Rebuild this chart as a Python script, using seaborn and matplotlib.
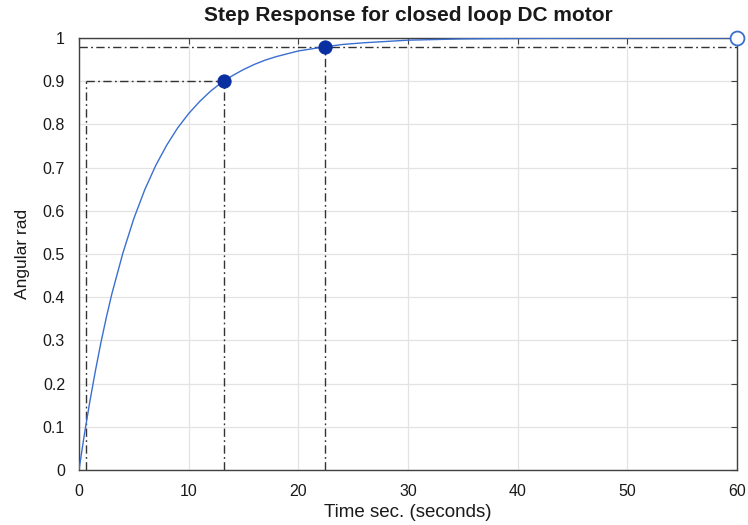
import matplotlib

matplotlib.use("Agg")

import matplotlib.pyplot as plt
import pandas as pd
import seaborn as sns

# Step response
time_s = [0, 0.5, 1, 1.5, 2, 2.5, 3, 4, 5, 6, 7, 8, 9, 10, 11, 12, 13, 14, 15,
          16, 17, 18, 20, 22, 24, 26, 28, 30, 35, 40, 45, 50, 55, 60]
angle_rad = [0, 0.084, 0.160, 0.230, 0.295, 0.354, 0.408, 0.502, 0.582, 0.649,
             0.705, 0.752, 0.792, 0.825, 0.853, 0.877, 0.897, 0.913, 0.927,
             0.939, 0.949, 0.957, 0.970, 0.978, 0.985, 0.989, 0.992, 0.995,
             0.998, 0.999, 0.9996, 0.9998, 0.9999, 1.0]

# Characteristic points (rise time start / end, settling time, steady state)
rise_start = 0.6
rise_end = 13.2
rise_level = 0.9
settle_time = 22.4
settle_level = 0.98
final_time = 60
final_value = 1.0

x_ticks = [0, 10, 20, 30, 40, 50, 60]
y_ticks = [0, 0.1, 0.2, 0.3, 0.4, 0.5, 0.6, 0.7, 0.8, 0.9, 1.0]
y_tick_labels = ["0", "0.1", "0.2", "0.3", "0.4", "0.5", "0.6", "0.7", "0.8", "0.9", "1"]

sns.set_style("whitegrid")
plt.rcParams["font.family"] = ["Liberation Sans", "DejaVu Sans"]

CURVE = "#3a6fd0"
MARK = "#0a2fa0"
REF = "#333333"
DASHDOT = (0, (6, 2.4, 1.3, 2.4))

fig = plt.figure(figsize=(7.48, 5.25), dpi=100)
ax = fig.add_axes([0.1056, 0.1048, 0.8797, 0.8228])

df = pd.DataFrame({"t": time_s, "y": angle_rad})

# reference lines: steady state (dotted) and rise/settle (dash-dot)
ax.axhline(final_value, color="black", linestyle=(0, (1, 1.5)), linewidth=0.8, zorder=2)
ax.plot([rise_start, rise_start], [0, rise_level], color=REF, linestyle=DASHDOT, linewidth=1.0)
ax.plot([rise_start, rise_end], [rise_level, rise_level], color=REF, linestyle=DASHDOT, linewidth=1.0)
ax.plot([rise_end, rise_end], [0, rise_level], color=REF, linestyle=DASHDOT, linewidth=1.0)
ax.plot([0, final_time], [settle_level, settle_level], color=REF, linestyle=DASHDOT, linewidth=1.0)
ax.plot([settle_time, settle_time], [0, settle_level], color=REF, linestyle=DASHDOT, linewidth=1.0)

sns.lineplot(data=df, x="t", y="y", color=CURVE, linewidth=1.0, ax=ax, zorder=3)

pts = pd.DataFrame({"t": [rise_end, settle_time], "y": [rise_level, settle_level]})
sns.scatterplot(data=pts, x="t", y="y", color=MARK, s=90, edgecolor=MARK, ax=ax, zorder=4)
ax.plot([final_time], [final_value], marker="o", markersize=10, markerfacecolor="white",
        markeredgecolor=CURVE, markeredgewidth=1.3, clip_on=False, zorder=5)

ax.set_xlim(0, 60)
ax.set_ylim(0, 1)
ax.set_xticks(x_ticks)
ax.set_yticks(y_ticks)
ax.set_yticklabels(y_tick_labels)
ax.grid(True, color="#e3e3e3", linewidth=0.9)

for side in ["left", "bottom", "right", "top"]:
    ax.spines[side].set_visible(True)
    ax.spines[side].set_color("#404040")
    ax.spines[side].set_linewidth(1.0)

ax.tick_params(direction="in", top=True, right=True, length=4, width=0.8,
               color="#404040", labelsize=11.5, labelcolor="#1a1a1a")
ax.tick_params(axis="x", pad=10)
ax.tick_params(axis="y", pad=10)

ax.set_xlabel("Time sec. (seconds)", fontsize=13.5, color="#1a1a1a", labelpad=4)
ax.set_ylabel("Angular rad", fontsize=12.5, color="#1a1a1a", labelpad=9)
ax.set_title("Step Response for closed loop DC motor", fontsize=15, fontweight="bold",
             color="#1a1a1a", pad=12)

fig.savefig("out.png", dpi=100)
plt.close(fig)
